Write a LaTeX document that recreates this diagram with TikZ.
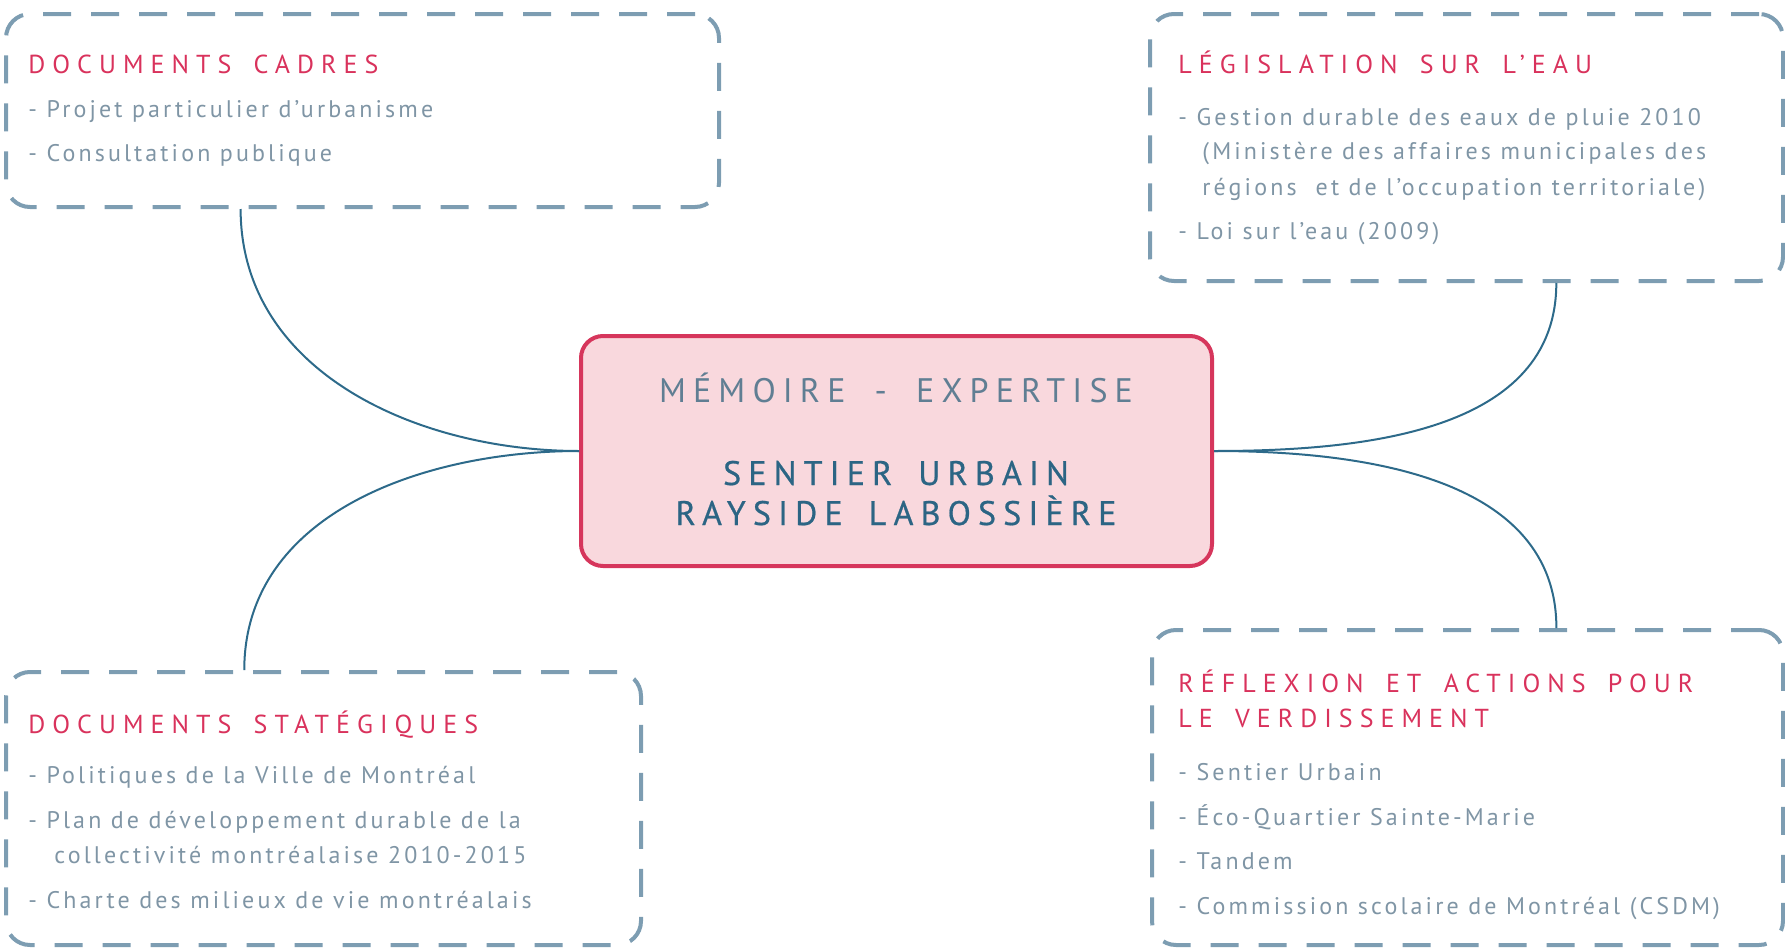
\documentclass[tikz,border=0pt]{standalone}
\usepackage{fontspec}
\setmainfont{PT Sans}
\newfontfamily\headfont{PT Sans}[LetterSpace=27, WordSpace=1.6]
\newfontfamily\itemfont{PT Sans}[LetterSpace=13]
\newfontfamily\hubfont{PT Sans}[LetterSpace=21, WordSpace=1.8]
\newfontfamily\hubboldfont{PT Sans}[LetterSpace=21, WordSpace=1.6, FakeBold=0.6]
\usetikzlibrary{fit, calc}
\definecolor{CFrame}{HTML}{7D9DB2}
\definecolor{CRed}{HTML}{D9325C}
\definecolor{CGrey}{HTML}{7F95A5}
\definecolor{CPink}{HTML}{F9D8DD}
\definecolor{CRose}{HTML}{D6365C}
\definecolor{CSlate}{HTML}{607E93}
\definecolor{CNavy}{HTML}{2C6584}
\definecolor{CLink}{HTML}{2D6A8A}

\begin{document}
\begin{tikzpicture}[x=0.5pt, y=-0.5pt,
    framebox/.style={draw=CFrame, line width=2pt, rounded corners=12pt, dash pattern=on 14pt off 10pt, inner sep=0pt},
    hubbox/.style={draw=CRose, fill=CPink, line width=2pt, rounded corners=11pt, inner sep=0pt},
    heading/.style={anchor=base west, inner sep=0pt, text=CRed, font=\fontsize{13}{15}\headfont},
    entry/.style={anchor=base west, inner sep=0pt, text=CGrey, font=\fontsize{12}{14}\itemfont},
    link/.style={draw=CLink, line width=1pt}]
    \useasboundingbox (0,0) rectangle (1785,948);

    % Frames
    \node[framebox, fit={(6,14) (719,207)}] (cadres) {};
    \node[framebox, fit={(1150,14) (1783,281)}] (eau) {};
    \node[framebox, fit={(6,672) (641,945)}] (strat) {};
    \node[framebox, fit={(1152,630) (1783,945)}] (verdi) {};

    % Central node
    \node[hubbox, fit={(581,336) (1212,566)}] (hub) {};
    \node[anchor=base, inner sep=0pt, text=CSlate, font=\fontsize{17}{20}\hubfont] (hubA) at (896,402) {MÉMOIRE - EXPERTISE};
    \node[anchor=base, inner sep=0pt, text=CNavy, font=\fontsize{17}{20}\hubboldfont] (hubB) at (896,485) {SENTIER URBAIN};
    \node[anchor=base, inner sep=0pt, text=CNavy, font=\fontsize{17}{20}\hubboldfont] (hubC) at (896,525) {RAYSIDE LABOSSIÈRE};

    % Documents cadres
    \node[heading] (cadresT) at (28,73) {DOCUMENTS CADRES};
    \node[entry] (cadresA) at (28,117) {- Projet particulier d’urbanisme};
    \node[entry] (cadresB) at (28,161) {- Consultation publique};

    % Legislation
    \node[heading] (eauT) at (1178,73) {LÉGISLATION SUR L’EAU};
    \node[entry] (eauA) at (1178,125) {- Gestion durable des eaux de pluie 2010};
    \node[entry] (eauA2) at (1202,159) {(Ministère des affaires municipales des};
    \node[entry] (eauA3) at (1202,195) {régions \ et de l’occupation territoriale)};
    \node[entry] (eauB) at (1178,239) {- Loi sur l’eau (2009)};

    % Documents strategiques
    \node[heading] (stratT) at (28,733) {DOCUMENTS STATÉGIQUES};
    \node[entry] (stratA) at (28,783) {- Politiques de la Ville de Montréal};
    \node[entry] (stratB) at (28,828) {- Plan de développement durable de la};
    \node[entry] (stratB2) at (54,863) {collectivité montréalaise 2010-2015};
    \node[entry] (stratC) at (28,908) {- Charte des milieux de vie montréalais};

    % Verdissement
    \node[heading] (verdiT) at (1178,692) {RÉFLEXION ET ACTIONS POUR};
    \node[heading] (verdiT2) at (1178,727) {LE VERDISSEMENT};
    \node[entry] (verdiA) at (1178,780) {- Sentier Urbain};
    \node[entry] (verdiB) at (1178,825) {- Éco-Quartier Sainte-Marie};
    \node[entry] (verdiC) at (1178,869) {- Tandem};
    \node[entry] (verdiD) at (1178,914) {- Commission scolaire de Montréal (CSDM)};

    % Links
    \draw[link] ($(cadres.south west)!0.33!(cadres.south east)$) to[out=-90, in=180] (hub.west);
    \draw[link] ($(strat.north west)!0.376!(strat.north east)$) to[out=90, in=180] (hub.west);
    \draw[link] ($(eau.south west)!0.641!(eau.south east)$) to[out=-90, in=0] (hub.east);
    \draw[link] ($(verdi.north west)!0.64!(verdi.north east)$) to[out=90, in=0] (hub.east);
\end{tikzpicture}
\end{document}
